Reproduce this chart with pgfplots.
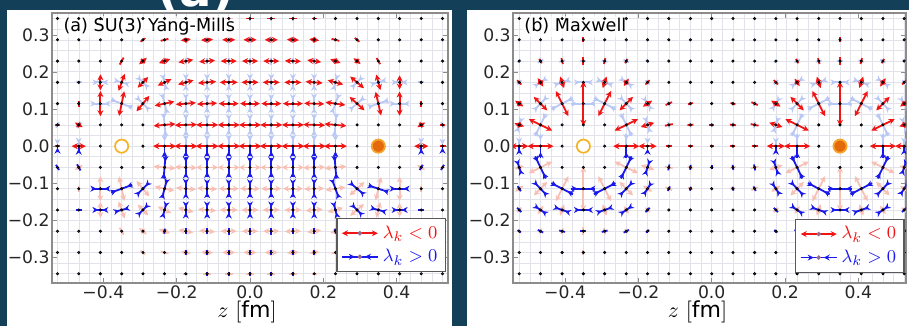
\documentclass[border=0pt]{standalone}
\usepackage{fontspec}
\setmainfont{DejaVu Sans}
\usepackage{pgfplots}
\usepackage{pgfplotstable}
\pgfplotsset{compat=1.18}
\usetikzlibrary{arrows.meta}

\definecolor{bgc}{RGB}{19,64,88}
\definecolor{vred}{RGB}{240,20,20}
\definecolor{vblue}{RGB}{25,25,235}
\definecolor{pred}{RGB}{248,192,180}
\definecolor{pblue}{RGB}{186,200,246}
\definecolor{dotc}{RGB}{150,105,145}
\definecolor{gold}{RGB}{245,178,40}
\definecolor{chgfill}{RGB}{228,105,10}
\definecolor{chgedge}{RGB}{245,165,45}
\definecolor{gridc}{RGB}{226,226,234}

\newcommand\pxu{0.002725}
\tikzset{hd/.style={-{Stealth[length=3pt,width=3pt]}}, aw/.style={line width=0.9pt}}

\newcommand\smallq[3]{%
  \addplot[#2, aw, quiver={u={2*\thisrow{L}*\pxu*cos(\thisrow{a})}, v={(#3)*2*\thisrow{L}*\pxu*sin(\thisrow{a})}}]
    table[x expr={\thisrow{x}-\thisrow{L}*\pxu*cos(\thisrow{a})}, y expr={(#3)*(\thisrow{y}-\thisrow{L}*\pxu*sin(\thisrow{a}))}] {#1};}
\newcommand\redq[3]{%
  \addplot[#2, aw, hd, quiver={u={\thisrow{L}*\pxu*cos(\thisrow{a})}, v={(#3)*\thisrow{L}*\pxu*sin(\thisrow{a})}}]
    table[x=x, y expr={(#3)*\thisrow{y}}] {#1};
  \addplot[#2, aw, hd, quiver={u={-\thisrow{L}*\pxu*cos(\thisrow{a})}, v={-(#3)*\thisrow{L}*\pxu*sin(\thisrow{a})}}]
    table[x=x, y expr={(#3)*\thisrow{y}}] {#1};}
\newcommand\blueq[3]{%
  \smallq{#1}{#2}{#3}%
  \addplot[#2, aw, hd, quiver={u={-0.5*\thisrow{L}*\pxu*cos(\thisrow{a})}, v={-0.5*(#3)*\thisrow{L}*\pxu*sin(\thisrow{a})}}]
    table[x expr={\thisrow{x}+\thisrow{L}*\pxu*cos(\thisrow{a})}, y expr={(#3)*(\thisrow{y}+\thisrow{L}*\pxu*sin(\thisrow{a}))}] {#1};
  \addplot[#2, aw, hd, quiver={u={0.5*\thisrow{L}*\pxu*cos(\thisrow{a})}, v={0.5*(#3)*\thisrow{L}*\pxu*sin(\thisrow{a})}}]
    table[x expr={\thisrow{x}-\thisrow{L}*\pxu*cos(\thisrow{a})}, y expr={(#3)*(\thisrow{y}-\thisrow{L}*\pxu*sin(\thisrow{a}))}] {#1};}
\newcommand\bluehalf[3]{%
  \addplot[#2, aw, quiver={u=0, v={-(#3)*\thisrow{L}*\pxu}}] table[x=x, y expr={0}] {#1};
  \addplot[#2, aw, hd, quiver={u=0, v={0.5*(#3)*\thisrow{L}*\pxu}}] table[x=x, y expr={-(#3)*\thisrow{L}*\pxu}] {#1};}

% ---------------- lattice ----------------
\pgfplotstableread[row sep=\\]{
x y\\
-0.525 0.345\\ -0.467 0.345\\ -0.408 0.345\\ -0.35 0.345\\ -0.292 0.345\\ -0.233 0.345\\ -0.175 0.345\\ -0.117 0.345\\ -0.058 0.345\\ 0 0.345\\ 0.058 0.345\\ 0.117 0.345\\ 0.175 0.345\\ 0.233 0.345\\ 0.292 0.345\\ 0.35 0.345\\ 0.408 0.345\\ 0.467 0.345\\ 0.525 0.345\\
-0.525 0.2875\\ -0.467 0.2875\\ -0.408 0.2875\\ -0.35 0.2875\\ -0.292 0.2875\\ -0.233 0.2875\\ -0.175 0.2875\\ -0.117 0.2875\\ -0.058 0.2875\\ 0 0.2875\\ 0.058 0.2875\\ 0.117 0.2875\\ 0.175 0.2875\\ 0.233 0.2875\\ 0.292 0.2875\\ 0.35 0.2875\\ 0.408 0.2875\\ 0.467 0.2875\\ 0.525 0.2875\\
-0.525 0.23\\ -0.467 0.23\\ -0.408 0.23\\ -0.35 0.23\\ -0.292 0.23\\ -0.233 0.23\\ -0.175 0.23\\ -0.117 0.23\\ -0.058 0.23\\ 0 0.23\\ 0.058 0.23\\ 0.117 0.23\\ 0.175 0.23\\ 0.233 0.23\\ 0.292 0.23\\ 0.35 0.23\\ 0.408 0.23\\ 0.467 0.23\\ 0.525 0.23\\
-0.525 0.1725\\ -0.467 0.1725\\ -0.408 0.1725\\ -0.35 0.1725\\ -0.292 0.1725\\ -0.233 0.1725\\ -0.175 0.1725\\ -0.117 0.1725\\ -0.058 0.1725\\ 0 0.1725\\ 0.058 0.1725\\ 0.117 0.1725\\ 0.175 0.1725\\ 0.233 0.1725\\ 0.292 0.1725\\ 0.35 0.1725\\ 0.408 0.1725\\ 0.467 0.1725\\ 0.525 0.1725\\
-0.525 0.115\\ -0.467 0.115\\ -0.408 0.115\\ -0.35 0.115\\ -0.292 0.115\\ -0.233 0.115\\ -0.175 0.115\\ -0.117 0.115\\ -0.058 0.115\\ 0 0.115\\ 0.058 0.115\\ 0.117 0.115\\ 0.175 0.115\\ 0.233 0.115\\ 0.292 0.115\\ 0.35 0.115\\ 0.408 0.115\\ 0.467 0.115\\ 0.525 0.115\\
-0.525 0.0575\\ -0.467 0.0575\\ -0.408 0.0575\\ -0.35 0.0575\\ -0.292 0.0575\\ -0.233 0.0575\\ -0.175 0.0575\\ -0.117 0.0575\\ -0.058 0.0575\\ 0 0.0575\\ 0.058 0.0575\\ 0.117 0.0575\\ 0.175 0.0575\\ 0.233 0.0575\\ 0.292 0.0575\\ 0.35 0.0575\\ 0.408 0.0575\\ 0.467 0.0575\\ 0.525 0.0575\\
-0.525 0\\ -0.467 0\\ -0.408 0\\ -0.35 0\\ -0.292 0\\ -0.233 0\\ -0.175 0\\ -0.117 0\\ -0.058 0\\ 0 0\\ 0.058 0\\ 0.117 0\\ 0.175 0\\ 0.233 0\\ 0.292 0\\ 0.35 0\\ 0.408 0\\ 0.467 0\\ 0.525 0\\
-0.525 -0.0575\\ -0.467 -0.0575\\ -0.408 -0.0575\\ -0.35 -0.0575\\ -0.292 -0.0575\\ -0.233 -0.0575\\ -0.175 -0.0575\\ -0.117 -0.0575\\ -0.058 -0.0575\\ 0 -0.0575\\ 0.058 -0.0575\\ 0.117 -0.0575\\ 0.175 -0.0575\\ 0.233 -0.0575\\ 0.292 -0.0575\\ 0.35 -0.0575\\ 0.408 -0.0575\\ 0.467 -0.0575\\ 0.525 -0.0575\\
-0.525 -0.115\\ -0.467 -0.115\\ -0.408 -0.115\\ -0.35 -0.115\\ -0.292 -0.115\\ -0.233 -0.115\\ -0.175 -0.115\\ -0.117 -0.115\\ -0.058 -0.115\\ 0 -0.115\\ 0.058 -0.115\\ 0.117 -0.115\\ 0.175 -0.115\\ 0.233 -0.115\\ 0.292 -0.115\\ 0.35 -0.115\\ 0.408 -0.115\\ 0.467 -0.115\\ 0.525 -0.115\\
-0.525 -0.1725\\ -0.467 -0.1725\\ -0.408 -0.1725\\ -0.35 -0.1725\\ -0.292 -0.1725\\ -0.233 -0.1725\\ -0.175 -0.1725\\ -0.117 -0.1725\\ -0.058 -0.1725\\ 0 -0.1725\\ 0.058 -0.1725\\ 0.117 -0.1725\\ 0.175 -0.1725\\ 0.233 -0.1725\\ 0.292 -0.1725\\ 0.35 -0.1725\\ 0.408 -0.1725\\ 0.467 -0.1725\\ 0.525 -0.1725\\
-0.525 -0.23\\ -0.467 -0.23\\ -0.408 -0.23\\ -0.35 -0.23\\ -0.292 -0.23\\ -0.233 -0.23\\ -0.175 -0.23\\ -0.117 -0.23\\ -0.058 -0.23\\ 0 -0.23\\ 0.058 -0.23\\ 0.117 -0.23\\ 0.175 -0.23\\ 0.233 -0.23\\ 0.292 -0.23\\ 0.35 -0.23\\ 0.408 -0.23\\ 0.467 -0.23\\ 0.525 -0.23\\
-0.525 -0.2875\\ -0.467 -0.2875\\ -0.408 -0.2875\\ -0.35 -0.2875\\ -0.292 -0.2875\\ -0.233 -0.2875\\ -0.175 -0.2875\\ -0.117 -0.2875\\ -0.058 -0.2875\\ 0 -0.2875\\ 0.058 -0.2875\\ 0.117 -0.2875\\ 0.175 -0.2875\\ 0.233 -0.2875\\ 0.292 -0.2875\\ 0.35 -0.2875\\ 0.408 -0.2875\\ 0.467 -0.2875\\ 0.525 -0.2875\\
-0.525 -0.345\\ -0.467 -0.345\\ -0.408 -0.345\\ -0.35 -0.345\\ -0.292 -0.345\\ -0.233 -0.345\\ -0.175 -0.345\\ -0.117 -0.345\\ -0.058 -0.345\\ 0 -0.345\\ 0.058 -0.345\\ 0.117 -0.345\\ 0.175 -0.345\\ 0.233 -0.345\\ 0.292 -0.345\\ 0.35 -0.345\\ 0.408 -0.345\\ 0.467 -0.345\\ 0.525 -0.345\\
}\lattice

% ---------------- panel (a): Yang-Mills ----------------
\pgfplotstableread{
x y L a
-0.175 0.2875 5 8
-0.117 0.2875 6 3
-0.058 0.2875 6.5 0
0 0.2875 6.5 0
0.058 0.2875 6.5 0
0.117 0.2875 6 177
0.175 0.2875 5 172
-0.292 0.23 5 40
-0.233 0.23 6 20
-0.175 0.23 7.5 10
-0.117 0.23 8 5
-0.058 0.23 8 0
0 0.23 8 0
0.058 0.23 8 0
0.117 0.23 8 178
0.175 0.23 7 172
0.233 0.23 5.5 160
0.292 0.23 4.5 140
-0.408 0.1725 8 90
-0.35 0.1725 9 70
-0.292 0.1725 7.5 45
-0.233 0.1725 7.5 25
-0.175 0.1725 8 15
-0.117 0.1725 9 5
-0.058 0.1725 9 0
0 0.1725 8.5 0
0.058 0.1725 8.5 0
0.117 0.1725 8.5 180
0.175 0.1725 8.5 175
0.233 0.1725 8 165
0.292 0.1725 9 140
0.35 0.1725 8 105
0.408 0.1725 7 90
-0.408 0.115 12.5 90
-0.35 0.115 12.5 78
-0.292 0.115 10 50
-0.233 0.115 10 12
-0.175 0.115 10 5
-0.117 0.115 10 3
-0.058 0.115 10 0
0 0.115 10 0
0.058 0.115 10 0
0.117 0.115 10 180
0.175 0.115 10 178
0.233 0.115 10 172
0.292 0.115 10 138
0.35 0.115 12 103
0.408 0.115 12 90
-0.467 0.0575 4.5 150
-0.233 0.0575 11 5
-0.175 0.0575 11 2
-0.117 0.0575 11 0
-0.058 0.0575 11 0
0 0.0575 11 0
0.058 0.0575 11 0
0.117 0.0575 11 0
0.175 0.0575 11 178
0.233 0.0575 11 175
0.467 0.0575 4.5 30
-0.467 0 7 0
-0.233 0 11.4 0
-0.175 0 11.4 0
-0.117 0 11.4 0
-0.058 0 11.4 0
0 0 11.4 0
0.058 0 11.4 0
0.117 0 11.4 0
0.175 0 11.4 0
0.233 0 11.4 0
0.467 0 7 0
}\redAbig
\pgfplotstableread{
x y L a
-0.175 0.345 2.5 0
-0.117 0.345 4 0
-0.058 0.345 4 0
0 0.345 4 0
0.058 0.345 4 0
0.117 0.345 4 0
0.175 0.345 2.5 0
-0.292 0.2875 3 40
-0.233 0.2875 4 15
0.233 0.2875 4 165
0.292 0.2875 3 140
-0.35 0.23 4 60
0.35 0.23 3.5 120
-0.467 0.115 3 90
0.467 0.115 3 90
-0.525 0.0575 2.5 0
0.525 0.0575 2.5 0
-0.525 0 3 0
0.525 0 3 0
}\redAsmall
\pgfplotstableread{
x y L a
-0.233 -0.0575 11 85
-0.175 -0.0575 10 90
-0.117 -0.0575 9 90
-0.058 -0.0575 9 90
0 -0.0575 9 90
0.058 -0.0575 9 90
0.117 -0.0575 9 90
0.175 -0.0575 10 90
0.233 -0.0575 11 95
-0.408 -0.115 8 0
-0.35 -0.115 11 20
-0.292 -0.115 7.5 45
-0.233 -0.115 9 75
-0.175 -0.115 8 90
-0.117 -0.115 7 90
-0.058 -0.115 7 90
0 -0.115 7 90
0.058 -0.115 7 90
0.117 -0.115 7 90
0.175 -0.115 8 90
0.233 -0.115 9 110
0.292 -0.115 8 140
0.35 -0.115 10 162
0.408 -0.115 8 180
-0.408 -0.1725 4 0
-0.35 -0.1725 4.5 15
-0.292 -0.1725 4.5 45
-0.233 -0.1725 5 75
-0.175 -0.1725 5 90
-0.117 -0.1725 5 90
-0.058 -0.1725 5 90
0 -0.1725 5 90
0.058 -0.1725 5 90
0.117 -0.1725 5 90
0.175 -0.1725 5 90
0.233 -0.1725 5 105
0.292 -0.1725 4.5 135
0.35 -0.1725 5 165
0.408 -0.1725 4 180
}\blueAbig
\pgfplotstableread{
x y L a
-0.525 -0.0575 3 120
-0.467 -0.0575 3.5 120
0.467 -0.0575 3 60
0.525 -0.0575 3 60
-0.467 -0.1725 3 0
0.467 -0.1725 3 0
-0.233 -0.23 2.5 80
-0.175 -0.23 3 90
-0.117 -0.23 3 90
-0.058 -0.23 3.5 90
0 -0.23 3.5 90
0.058 -0.23 3.5 90
0.117 -0.23 3 90
0.175 -0.23 3 90
0.233 -0.23 2.5 100
-0.175 -0.2875 2.5 90
-0.117 -0.2875 2.5 90
-0.058 -0.2875 2.5 90
0 -0.2875 2.5 90
0.058 -0.2875 2.5 90
0.117 -0.2875 2.5 90
0.175 -0.2875 2.5 90
-0.117 -0.345 2 90
-0.058 -0.345 2 90
0 -0.345 2 90
0.058 -0.345 2 90
0.117 -0.345 2 90
}\blueAsmall
\pgfplotstableread{
x L
-0.525 3
-0.467 5
-0.233 10
-0.175 10
-0.117 10
-0.058 10
0 10
0.058 10
0.117 10
0.175 10
0.233 10
0.467 5
0.525 3
}\blueAz

% ---------------- panel (b): Maxwell ----------------
\pgfplotstableread{
x y L a
-0.525 0 9 0
-0.467 0 13 0
-0.233 0 13 0
-0.175 0 9 0
0.175 0 9 0
0.233 0 13 0
0.467 0 13 0
0.525 0 9 0
-0.525 0.0575 5 162
-0.467 0.0575 13 154
-0.233 0.0575 13 26
-0.175 0.0575 7 18
0.175 0.0575 7 162
0.233 0.0575 13 154
0.467 0.0575 13 26
0.525 0.0575 5 18
-0.525 0.115 5 145
-0.467 0.115 9.5 135
-0.408 0.115 14 117
-0.35 0.115 22 90
-0.292 0.115 14 63
-0.233 0.115 9.5 45
-0.175 0.115 5.5 33
0.175 0.115 5.5 147
0.233 0.115 9.5 135
0.292 0.115 14 117
0.35 0.115 22 90
0.408 0.115 14 63
0.467 0.115 9.5 45
0.525 0.115 5 35
-0.467 0.1725 5 124
-0.408 0.1725 6 109
-0.292 0.1725 6 71
-0.233 0.1725 4.5 56
0.233 0.1725 4.5 124
0.292 0.1725 6 109
0.408 0.1725 6 71
0.467 0.1725 5 56
}\redBbig
\pgfplotstableread{
x y L a
-0.117 0 3 0
-0.058 0 2.5 0
0 0 2 0
0.058 0 2.5 0
0.117 0 3 0
-0.117 0.0575 4 12
-0.058 0.0575 3 6
0 0.0575 2.5 0
0.058 0.0575 3 174
0.117 0.0575 4 168
-0.117 0.115 3.5 25
-0.058 0.115 2.5 15
0.058 0.115 2.5 165
0.117 0.115 3.5 155
-0.525 0.1725 3 135
-0.175 0.1725 3 45
0.175 0.1725 3 135
0.525 0.1725 3 45
-0.467 0.23 2.5 120
-0.408 0.23 3 105
-0.35 0.23 4 90
-0.292 0.23 3 75
-0.233 0.23 2.5 60
0.233 0.23 2.5 120
0.292 0.23 3 105
0.35 0.23 4 90
0.408 0.23 3 75
0.467 0.23 2.5 60
-0.35 0.2875 2.5 90
0.35 0.2875 2.5 90
}\redBsmall
\pgfplotstableread{
x y L a
-0.525 -0.0575 4 108
-0.467 -0.0575 12 116
-0.233 -0.0575 12 64
-0.175 -0.0575 5 72
0.175 -0.0575 5 108
0.233 -0.0575 12 116
0.467 -0.0575 12 64
0.525 -0.0575 4 72
-0.467 -0.115 8 134
-0.408 -0.115 12 153
-0.35 -0.115 12 0
-0.292 -0.115 12 27
-0.233 -0.115 8 46
-0.175 -0.115 4 57
0.175 -0.115 4 123
0.233 -0.115 8 134
0.292 -0.115 12 153
0.35 -0.115 12 0
0.408 -0.115 12 27
0.467 -0.115 8 46
0.525 -0.115 4 57
-0.467 -0.1725 4 146
-0.408 -0.1725 6 161
-0.35 -0.1725 7 0
-0.292 -0.1725 6 19
-0.233 -0.1725 4 34
0.233 -0.1725 4 146
0.292 -0.1725 6 161
0.35 -0.1725 7 0
0.408 -0.1725 6 19
0.467 -0.1725 4 34
}\blueBbig
\pgfplotstableread{
x y L a
-0.117 -0.0575 3 78
-0.058 -0.0575 2.5 84
0 -0.0575 2 90
0.058 -0.0575 2.5 96
0.117 -0.0575 3 102
-0.525 -0.115 3 123
-0.117 -0.115 2.5 63
-0.058 -0.115 2 75
0.058 -0.115 2 105
0.117 -0.115 2.5 117
-0.525 -0.1725 3 135
-0.175 -0.1725 3 45
0.175 -0.1725 3 135
0.525 -0.1725 3 45
-0.525 -0.23 2 143
-0.467 -0.23 3 153
-0.408 -0.23 3 166
-0.35 -0.23 3 0
-0.292 -0.23 3 14
-0.233 -0.23 3 27
-0.175 -0.23 2 37
0.175 -0.23 2 143
0.233 -0.23 3 153
0.292 -0.23 3 166
0.35 -0.23 3 0
0.408 -0.23 3 14
0.467 -0.23 3 27
0.525 -0.23 2 37
}\blueBsmall
\pgfplotstableread{
x L
-0.525 5
-0.467 12
-0.233 12
-0.175 5
0.175 5
0.233 12
0.467 12
0.525 5
}\blueBz

\pgfplotsset{panel/.style={
  scale only axis, height=135pt, ymin=-0.37, ymax=0.36,
  xtick={-0.4,-0.2,0,0.2,0.4}, xticklabels={−0.4,−0.2,0.0,0.2,0.4},
  ytick={-0.3,-0.2,-0.1,0,0.1,0.2,0.3}, yticklabels={−0.3,−0.2,−0.1,0.0,0.1,0.2,0.3},
  minor xtick={-0.525,-0.49583,...,0.53},
  minor ytick={-0.345,-0.31625,...,0.35},
  xminorgrids=true, yminorgrids=true,
  minor grid style={draw=gridc, line width=0.3pt},
  minor tick length=0pt, major tick length=2.5pt, tick align=inside,
  major tick style={draw=black!45, line width=0.5pt},
  axis line style={draw=black!45, line width=0.75pt},
  tick label style={font=\fontsize{8.6}{9}\selectfont, text=black!85},
  xticklabel style={inner ysep=1pt},
  yticklabel style={inner xsep=1pt},
  xlabel={$z\ [\mathrm{fm}]$},
  legend style={anchor=south east, draw=black!65, line width=0.7pt, fill=white, font=\fontsize{9.5}{10}\selectfont, inner xsep=2pt, inner ysep=1.5pt, cells={anchor=west}},
  legend cell align=left,
}}

\newcommand\legendimgs{%
  \addlegendimage{legend image code/.code={%
    \draw[vred, line width=0.9pt, {Stealth[length=3pt,width=3pt]}-{Stealth[length=3pt,width=3pt]}] (0pt,0pt) -- (18pt,0pt);
    \fill[dotc] (9pt,0pt) circle (0.7pt);}}
  \addlegendentry{\textcolor{vred}{$\lambda_k<0$}}
  \addlegendimage{legend image code/.code={%
    \draw[vblue, line width=0.9pt] (0pt,0pt) -- (18pt,0pt);
    \draw[vblue, line width=0.9pt, -{Stealth[length=3pt,width=3pt]}] (0pt,0pt) -- (6.5pt,0pt);
    \draw[vblue, line width=0.9pt, -{Stealth[length=3pt,width=3pt]}] (18pt,0pt) -- (11.5pt,0pt);
    \fill[dotc] (9pt,0pt) circle (0.7pt);}}
  \addlegendentry{\textcolor{vblue}{$\lambda_k>0$}}%
}
\newcommand\charges{%
  \addplot[only marks, mark=*, mark size=0.55pt, mark options={draw=none, fill=dotc}] table {\lattice};
  \addplot[only marks, mark=*, mark size=3.3pt, mark options={draw=gold, fill=white, line width=0.85pt}] coordinates {(-0.35,0)};
  \addplot[only marks, mark=*, mark size=3.3pt, mark options={draw=chgedge, fill=chgfill, line width=0.9pt}] coordinates {(0.35,0)};
}
\newcommand\paneltitle[1]{%
  \node[anchor=north west, font=\fontsize{8.8}{9}\selectfont, fill=white, fill opacity=0.7, text opacity=1, inner sep=1.2pt] at (rel axis cs:0.022,0.99) {#1};}

\begin{document}
\begin{tikzpicture}
\useasboundingbox (0pt,0pt) rectangle (454.5pt,163pt);
\fill[bgc] (0pt,0pt) rectangle (454.5pt,163pt);
\fill[white] (3.5pt,0pt) rectangle (226pt,158pt);
\fill[white] (233.5pt,0pt) rectangle (454.5pt,158pt);
\node[white, font=\fontsize{24}{24}\selectfont\bfseries, anchor=base] at (98pt,159.5pt) {(a)};

\begin{axis}[panel, at={(26pt,21.5pt)}, anchor=south west, width=198pt,
  xmin=-0.54, xmax=0.54,
  xlabel style={font=\fontsize{11}{12}\selectfont, at={(axis description cs:0.5,0)}, anchor=north, yshift=-8.5pt, xshift=-1.5pt, inner sep=0pt},
  legend style={at={(rel axis cs:0.995,0.04)}}]
  \legendimgs
  \redq{\redAbig}{pred}{-1}
  \smallq{\redAsmall}{pred}{-1}
  \blueq{\blueAbig}{pblue}{-1}
  \smallq{\blueAsmall}{pblue}{-1}
  \bluehalf{\blueAz}{pblue}{-1}
  \blueq{\blueAbig}{vblue}{1}
  \smallq{\blueAsmall}{vblue}{1}
  \bluehalf{\blueAz}{vblue}{1}
  \redq{\redAbig}{vred}{1}
  \smallq{\redAsmall}{vred}{1}
  \charges
  \paneltitle{(a) SU(3) Yang-Mills}
\end{axis}

\begin{axis}[panel, at={(256.5pt,21.5pt)}, anchor=south west, width=196.5pt,
  xmin=-0.542, xmax=0.53,
  xlabel style={font=\fontsize{11}{12}\selectfont, at={(axis description cs:0.5,0)}, anchor=north, yshift=-8.5pt, xshift=-6pt, inner sep=0pt},
  legend style={at={(rel axis cs:0.997,0.037)}}]
  \legendimgs
  \redq{\redBbig}{pred}{-1}
  \smallq{\redBsmall}{pred}{-1}
  \blueq{\blueBbig}{pblue}{-1}
  \smallq{\blueBsmall}{pblue}{-1}
  \bluehalf{\blueBz}{pblue}{-1}
  \blueq{\blueBbig}{vblue}{1}
  \smallq{\blueBsmall}{vblue}{1}
  \bluehalf{\blueBz}{vblue}{1}
  \redq{\redBbig}{vred}{1}
  \smallq{\redBsmall}{vred}{1}
  \charges
  \paneltitle{(b) Maxwell}
\end{axis}
\end{tikzpicture}
\end{document}
